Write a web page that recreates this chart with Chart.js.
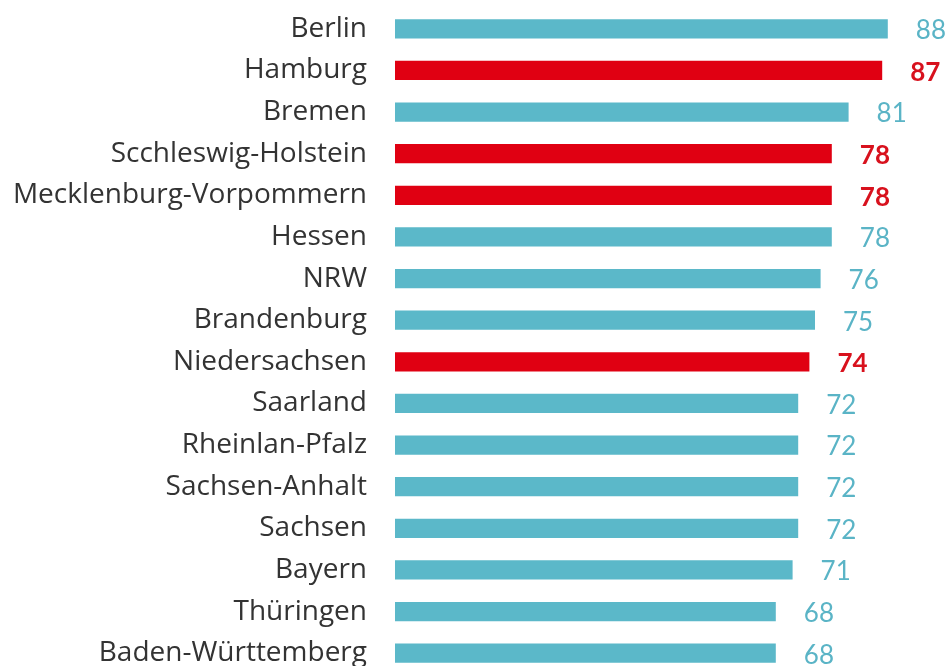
<!DOCTYPE html>
<html>
<head>
<meta charset="utf-8">
<script src="https://cdn.jsdelivr.net/npm/chart.js@4.4.1/dist/chart.umd.min.js"></script>
<style>
  html, body { margin: 0; padding: 0; background: #fff; overflow: hidden; }
  #wrap { width: 951px; height: 680px; }
</style>
</head>
<body>
<div id="wrap"><canvas id="bundesChart" width="951" height="680"></canvas></div>
<script>
// Bundesländer, von oben nach unten
const laender = [
  'Berlin', 'Hamburg', 'Bremen', 'Scchleswig-Holstein', 'Mecklenburg-Vorpommern',
  'Hessen', 'NRW', 'Brandenburg', 'Niedersachsen', 'Saarland', 'Rheinlan-Pfalz',
  'Sachsen-Anhalt', 'Sachsen', 'Bayern', 'Thüringen', 'Baden-Württemberg'
];
const werte = [88, 87, 81, 78, 78, 78, 76, 75, 74, 72, 72, 72, 72, 71, 68, 68];
// markierte Länder (rot)
const markiert = [false, true, false, true, true, false, false, false, true, false, false, false, false, false, false, false];

const TEAL = '#5bb8c9';
const RED = '#e00012';

// Werte rechts neben die Balken schreiben
const wertLabels = {
  id: 'wertLabels',
  afterDatasetsDraw(chart) {
    const ctx = chart.ctx;
    const meta = chart.getDatasetMeta(0);
    ctx.save();
    ctx.textBaseline = 'middle';
    ctx.textAlign = 'left';
    meta.data.forEach((bar, i) => {
      ctx.font = (markiert[i] ? 'bold ' : '') + '26px Lato';
      ctx.fillStyle = markiert[i] ? '#d8111d' : '#5ab4c6';
      ctx.fillText(String(werte[i]), bar.x + 28, bar.y + 2);
    });
    ctx.restore();
  }
};

new Chart(document.getElementById('bundesChart'), {
  type: 'bar',
  data: {
    labels: laender,
    datasets: [{
      data: werte,
      backgroundColor: markiert.map(m => m ? RED : TEAL),
      borderWidth: 0,
      barPercentage: 0.46,
      categoryPercentage: 1
    }]
  },
  options: {
    indexAxis: 'y',
    responsive: false,
    animation: false,
    layout: { padding: { top: 8, bottom: 6, left: 0, right: 52 } },
    plugins: {
      legend: { display: false },
      tooltip: { enabled: false }
    },
    scales: {
      x: {
        display: false,
        min: 0,
        max: 90
      },
      y: {
        grid: { display: false },
        border: { display: false },
        ticks: {
          color: '#333333',
          padding: 20,
          font: { family: 'Open Sans', size: 28 }
        },
        afterFit(scale) {
          scale.width = 395;
          // kein zusätzlicher Rand oben/unten durch das Tick-Padding
          scale.paddingTop = 0;
          scale.paddingBottom = 0;
        }
      }
    }
  },
  plugins: [wertLabels]
});
</script>
</body>
</html>
